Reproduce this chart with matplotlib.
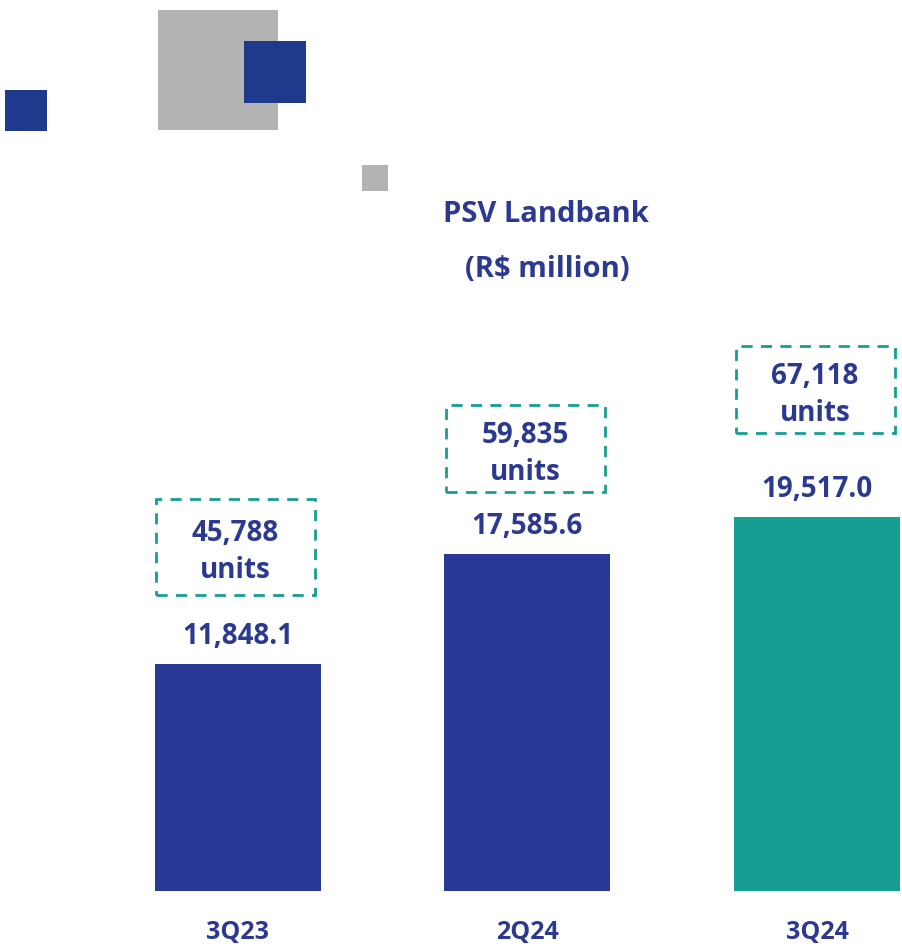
import matplotlib.pyplot as plt
from matplotlib.patches import Rectangle

# data
quarters = ['3Q23', '2Q24', '3Q24']
psv_values = [11848.1, 17585.6, 19517.0]
unit_counts = ['45,788', '59,835', '67,118']

blue = '#283A96'
teal = '#179E92'
text_blue = '#2B3990'
bar_colors = [blue, blue, teal]

# layout of the dashed unit boxes (pixels): gap above bar top, box height
box_gap = [69, 62, 84]
box_h = [96, 87, 87]
box_w = 159

plt.rcParams['font.family'] = ['Open Sans', 'DejaVu Sans']

W, H = 902, 947
fig = plt.figure(figsize=(W / 100, H / 100), dpi=100)

# axes fills the figure above the bar baseline, scaled so 1 px = 1/0.01916 R$ mn
base_px = 891
ax = fig.add_axes([0, (H - base_px) / H, 1, base_px / H])
ax.set_xlim(-237.5 / 289.75, (W - 237.5) / 289.75)
ax.set_ylim(0, base_px / 0.01916)
ax.axis('off')

x = list(range(len(quarters)))
ax.bar(x, psv_values, width=166 / 289.75, color=bar_colors)

y_per_px = (ax.get_ylim()[1] - ax.get_ylim()[0]) / base_px
x_per_px = (ax.get_xlim()[1] - ax.get_xlim()[0]) / W

for i, v in enumerate(psv_values):
    ax.annotate(f'{v:,.1f}', xy=(i, v), xytext=(0, 14.5), textcoords='offset points',
                ha='center', va='baseline', fontsize=20, fontweight='bold', color=text_blue)

    bottom = v + box_gap[i] * y_per_px
    height = box_h[i] * y_per_px
    ax.add_patch(Rectangle((i - 2 * x_per_px - box_w * x_per_px / 2, bottom),
                           box_w * x_per_px, height, fill=False, edgecolor=teal,
                           linewidth=2, linestyle=(0, (4, 3)), clip_on=False))
    center = bottom + height / 2
    ax.text(i - 2 * x_per_px, center + 5.5 * y_per_px, unit_counts[i], ha='center', va='baseline',
            fontsize=20, fontweight='bold', color=text_blue)
    ax.text(i - 2 * x_per_px, center - 31.5 * y_per_px, 'units', ha='center', va='baseline',
            fontsize=20, fontweight='bold', color=text_blue)

    ax.annotate(quarters[i], xy=(i, 0), xytext=(0, -54 / 1.389), textcoords='offset points',
                ha='center', va='bottom', fontsize=18, fontweight='bold', color=text_blue,
                annotation_clip=False)

# title
fig.text(546 / W, 1 - 222 / H, 'PSV Landbank', ha='center', va='baseline',
         fontsize=21, fontweight='bold', color=text_blue)
fig.text(547 / W, 1 - 277 / H, '(R$ million)', ha='center', va='baseline',
         fontsize=21, fontweight='bold', color=text_blue)

# decorative squares (pixel boxes: x0, y0, x1, y1)
decor = [((158, 10, 278, 130), '#B3B3B3'),
         ((244, 41, 306, 103), '#1F3A8C'),
         ((5, 90, 47, 131), '#1F3A8C'),
         ((362, 165, 388, 191), '#B3B3B3')]
for (x0, y0, x1, y1), c in decor:
    fig.patches.append(Rectangle((x0 / W, 1 - y1 / H), (x1 - x0) / W, (y1 - y0) / H,
                                 transform=fig.transFigure, color=c, linewidth=0))

fig.savefig('out.png', dpi=100)
